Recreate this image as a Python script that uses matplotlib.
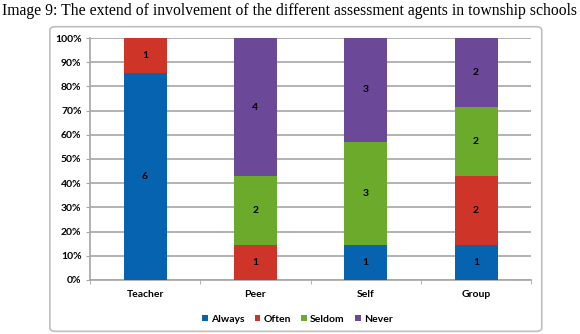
import numpy as np
import matplotlib.pyplot as plt
from matplotlib.patches import FancyBboxPatch

# data
agents = ['Teacher', 'Peer', 'Self', 'Group']
series = ['Always', 'Often', 'Seldom', 'Never']
always = [6, 0, 1, 1]
often = [1, 1, 0, 2]
seldom = [0, 2, 3, 2]
never = [0, 4, 3, 2]
colors = ['#0563AF', '#CF3428', '#6BAA2B', '#6B4898']
yticks = [0, 10, 20, 30, 40, 50, 60, 70, 80, 90, 100]

counts = np.array([always, often, seldom, never], dtype=float)
pct = counts / counts.sum(axis=0) * 100

fig = plt.figure(figsize=(5.8, 3.34), dpi=100)

# outer chart frame
frame = FancyBboxPatch((0.086, 0.008), 0.848, 0.912, boxstyle='round,pad=0,rounding_size=0.01',
                       transform=fig.transFigure, facecolor='white', edgecolor='#BFBFBF', lw=1.2,
                       zorder=-5)
fig.patches.append(frame)

fig.text(0.003, 0.968, 'Image 9: The extend of involvement of the different assessment agents in township schools',
         family='Liberation Serif', fontsize=11.3, va='center', ha='left')

ax = fig.add_axes([0.155, 0.162, 0.761, 0.724])
ax.set_facecolor('none')
x = np.arange(len(agents))
bottom = np.zeros(len(agents))
for i, name in enumerate(series):
    ax.bar(x, pct[i], bottom=bottom, width=0.39, color=colors[i], label=name, zorder=3)
    for j in range(len(agents)):
        if counts[i, j] > 0:
            ax.text(x[j], bottom[j] + pct[i, j] / 2, '%d' % counts[i, j], ha='center', va='center',
                    fontsize=7.5, fontweight='bold', family='Lato', zorder=4)
    bottom += pct[i]

ax.set_xlim(-0.5, len(agents) - 0.5)
ax.set_ylim(0, 100)
ax.set_yticks(yticks)
ax.set_yticklabels(['%d%%' % v for v in yticks], fontsize=7.5, fontweight='bold', family='Lato')
ax.set_xticks(x)
ax.set_xticklabels(agents, fontsize=7.5, fontweight='bold', family='Lato')
ax.set_xticks(np.arange(-0.5, len(agents), 1), minor=True)
ax.tick_params(axis='x', which='major', length=0, pad=7)
ax.tick_params(axis='x', which='minor', length=3, color='#A6A6A6')
ax.tick_params(axis='y', length=3, color='#A6A6A6', pad=3)
ax.grid(axis='y', color='#A6A6A6', lw=1.2, zorder=0)
for s in ['top', 'right']:
    ax.spines[s].set_visible(False)
for s in ['left', 'bottom']:
    ax.spines[s].set_color('#A6A6A6')
    ax.spines[s].set_linewidth(1.2)

leg = ax.legend(loc='upper center', bbox_to_anchor=(0.47, -0.105), ncol=4, frameon=False,
                handlelength=0.55, handleheight=0.55, handletextpad=0.3, columnspacing=1.0,
                prop={'family': 'Lato', 'size': 7.5, 'weight': 'bold'})

plt.savefig('out.png', dpi=100)
